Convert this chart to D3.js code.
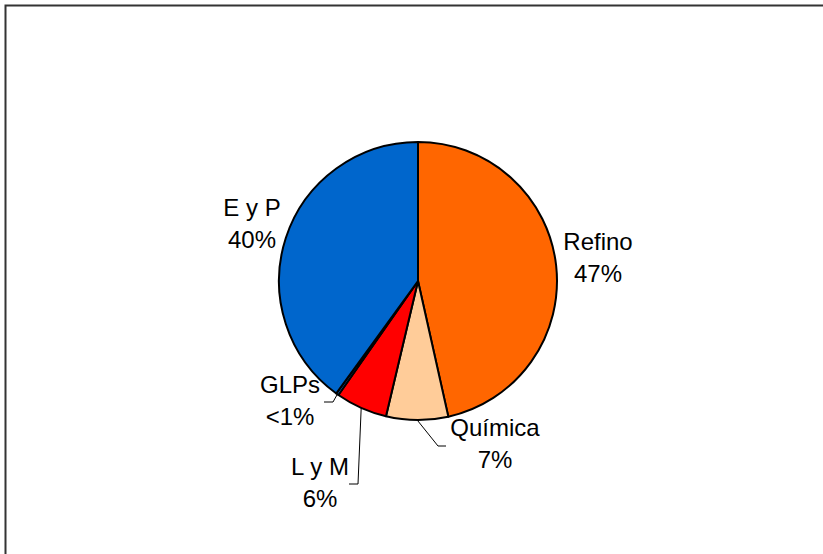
<!DOCTYPE html>
<html>
<head>
<meta charset="utf-8">
<script src="https://cdn.jsdelivr.net/npm/d3@7"></script>
<style>
  body { margin: 0; background: #fff; }
  svg { display: block; }
  text { font-family: "Liberation Sans", Arial, sans-serif; font-size: 24px; fill: #000; }
</style>
</head>
<body>
<div id="chart"></div>
<script>
// slices, clockwise from 12 o'clock
const categories = ['Refino', 'Química', 'L y M', 'GLPs', 'E y P'];
const shares     = [46.5, 7.2, 6.0, 0.3, 40.0];
const pctLabels  = ['47%', '7%', '6%', '<1%', '40%'];
const colors     = ['#ff6600', '#ffcc99', '#ff0000', '#0066cc', '#0066cc'];

const width = 823, height = 554;
const cx = 418, cy = 281, r = 139;

// label anchor (centre of the two lines) and leader polyline end, per slice
const labelPos = [
  {x: 598, y: 258, leader: null},
  {x: 495, y: 444, leader: [[438, 446], [446, 446]]},
  {x: 320, y: 483, leader: [[358, 484], [349, 484]]},
  {x: 290, y: 401, leader: [[333, 402], [324, 402]]},
  {x: 252, y: 224, leader: null}
];

const svg = d3.select('#chart').append('svg')
  .attr('width', width)
  .attr('height', height);

// outer frame (only top and left edges show in the picture)
svg.append('path')
  .attr('d', `M5.5,${height} V5.5 H${width}`)
  .attr('fill', 'none')
  .attr('stroke', '#333')
  .attr('stroke-width', 2);

const pie = d3.pie().sort(null).value(d => d);
const arcs = pie(shares);
const arc = d3.arc().innerRadius(0).outerRadius(r);

const g = svg.append('g').attr('transform', `translate(${cx},${cy})`);

g.selectAll('path.slice')
  .data(arcs)
  .enter().append('path')
  .attr('class', 'slice')
  .attr('d', arc)
  .attr('fill', (d, i) => colors[i])
  .attr('stroke', '#000')
  .attr('stroke-width', 2)
  .attr('stroke-linejoin', 'round');

// leader lines from slice edge to label
arcs.forEach((d, i) => {
  const lp = labelPos[i];
  if (!lp.leader) return;
  const a = (d.startAngle + d.endAngle) / 2;
  const start = [cx + r * Math.sin(a), cy - r * Math.cos(a)];
  svg.append('polyline')
    .attr('points', [start].concat(lp.leader).map(p => p.join(',')).join(' '))
    .attr('fill', 'none')
    .attr('stroke', '#000')
    .attr('stroke-width', 1);
});

const labels = svg.selectAll('g.label')
  .data(arcs)
  .enter().append('g')
  .attr('class', 'label')
  .attr('transform', (d, i) => `translate(${labelPos[i].x},${labelPos[i].y})`);

labels.append('text')
  .attr('text-anchor', 'middle')
  .attr('y', -8)
  .text((d, i) => categories[i]);

labels.append('text')
  .attr('text-anchor', 'middle')
  .attr('y', 24)
  .text((d, i) => pctLabels[i]);
</script>
</body>
</html>
